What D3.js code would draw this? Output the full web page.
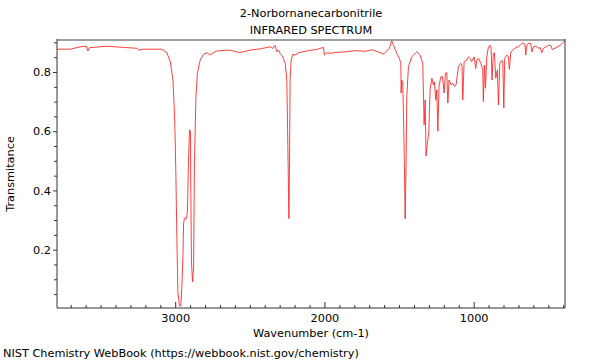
<!DOCTYPE html>
<html>
<head>
<meta charset="utf-8">
<script src="https://cdn.jsdelivr.net/npm/d3@7"></script>
<style>
  body { margin: 0; background: #fff; }
  text { font-family: "DejaVu Sans", sans-serif; fill: #000; }
</style>
</head>
<body>
<div id="chart"></div>
<script>
// spectrum: wavenumber (cm-1) and transmittance
var wavenumber = [3792, 3703, 3636, 3596, 3585, 3574, 3457, 3348, 3257, 3246, 3212, 3145, 3089, 3056, 3033, 3015, 3005, 3000, 2995, 2989,
  2982, 2971, 2962, 2955, 2948, 2944, 2938, 2928, 2922, 2918, 2911, 2904, 2898, 2895, 2891, 2884, 2877, 2871, 2861, 2851,
  2833, 2810, 2784, 2770, 2752, 2721, 2632, 2576, 2543, 2498, 2431, 2364, 2346, 2330, 2319, 2308, 2297, 2279, 2263, 2252,
  2245, 2238, 2234, 2230, 2223, 2212, 2196, 2174, 2118, 2084, 2051, 2007, 2000, 1984, 1962, 1928, 1861, 1794, 1727, 1680,
  1627, 1605, 1582, 1565, 1549, 1538, 1515, 1498, 1488, 1486, 1482, 1475, 1466, 1459, 1453, 1448, 1437, 1415, 1381, 1359,
  1341, 1332, 1325, 1319, 1310, 1301, 1292, 1280, 1270, 1263, 1254, 1247, 1240, 1232, 1220, 1209, 1198, 1189, 1180, 1173,
  1165, 1151, 1140, 1129, 1118, 1102, 1087, 1078, 1073, 1064, 1046, 1035, 1024, 1013, 997, 986, 979, 968, 952, 939,
  935, 928, 921, 912, 901, 890, 883, 877, 868, 861, 852, 841, 834, 825, 811, 805, 798, 792, 778, 767,
  761, 751, 734, 716, 700, 689, 677, 667, 656, 651, 644, 629, 618, 609, 600, 582, 567, 555, 544, 533,
  515, 499, 483, 474, 455, 421, 388]
var transmittance = [0.877, 0.877, 0.885, 0.887, 0.871, 0.882, 0.887, 0.883, 0.880, 0.874, 0.877, 0.877, 0.877, 0.865, 0.835, 0.773, 0.662, 0.572, 0.440, 0.247,
  0.057, 0.010, 0.010, 0.080, 0.180, 0.287, 0.306, 0.303, 0.314, 0.330, 0.495, 0.605, 0.600, 0.382, 0.159, 0.092, 0.136, 0.495, 0.717, 0.796,
  0.840, 0.860, 0.865, 0.857, 0.863, 0.871, 0.874, 0.866, 0.868, 0.874, 0.878, 0.885, 0.880, 0.890, 0.868, 0.874, 0.863, 0.851, 0.829, 0.773,
  0.549, 0.305, 0.495, 0.773, 0.840, 0.860, 0.857, 0.865, 0.871, 0.874, 0.876, 0.883, 0.857, 0.865, 0.863, 0.866, 0.868, 0.872, 0.870, 0.875,
  0.865, 0.860, 0.871, 0.880, 0.905, 0.891, 0.863, 0.846, 0.829, 0.729, 0.773, 0.762, 0.549, 0.304, 0.494, 0.717, 0.818, 0.851, 0.868, 0.857,
  0.829, 0.622, 0.706, 0.516, 0.561, 0.594, 0.740, 0.779, 0.756, 0.767, 0.706, 0.740, 0.600, 0.751, 0.784, 0.784, 0.729, 0.796, 0.798, 0.695,
  0.773, 0.756, 0.762, 0.751, 0.756, 0.818, 0.829, 0.823, 0.706, 0.835, 0.840, 0.851, 0.846, 0.835, 0.851, 0.812, 0.840, 0.846, 0.829, 0.807,
  0.700, 0.823, 0.745, 0.851, 0.885, 0.890, 0.880, 0.773, 0.863, 0.865, 0.779, 0.807, 0.689, 0.829, 0.840, 0.835, 0.678, 0.846, 0.857, 0.851,
  0.809, 0.868, 0.876, 0.883, 0.885, 0.890, 0.896, 0.898, 0.890, 0.857, 0.890, 0.898, 0.896, 0.868, 0.885, 0.887, 0.880, 0.883, 0.865, 0.880,
  0.885, 0.890, 0.890, 0.876, 0.880, 0.890, 0.905]

var xMajor = [3000, 2000, 1000]
var xMinor = [3700, 3600, 3500, 3400, 3300, 3200, 3100, 2900, 2800, 2700, 2600, 2500, 2400, 2300, 2200, 2100,
  1900, 1800, 1700, 1600, 1500, 1400, 1300, 1200, 1100, 900, 800, 700, 600, 500, 400]
var yMajor = [0.2, 0.4, 0.6, 0.8]
var yMinor = [0.05, 0.1, 0.15, 0.25, 0.3, 0.35, 0.45, 0.5, 0.55, 0.65, 0.7, 0.75, 0.85, 0.9]

var titleLines = ["2-Norbornanecarbonitrile", "INFRARED SPECTRUM"]

var fontSize = "11.3px"

var margin = {top: 40, right: 35, bottom: 52, left: 57},
    width = 600 - margin.left - margin.right,
    height = 360 - margin.top - margin.bottom;

var svg = d3.select("#chart")
  .append("svg")
  .attr("width", 600)
  .attr("height", 360)

var chartgroup = svg.append("g")
  .attr("transform", "translate(" + margin.left + "," + margin.top + ")");

var x = d3.scaleLinear()
  .domain([3792, 388])
  .range([0, width]);

var y = d3.scaleLinear()
  .domain([0.003, 0.908])
  .range([height, 0]);

// x axis: ticks point up into the plot
chartgroup.append("g")
  .attr("transform", "translate(0," + height + ")")
  .call(d3.axisTop(x).tickValues(xMinor).tickSize(3).tickFormat(""))
  .call(g => g.select(".domain").remove())
chartgroup.append("g")
  .attr("transform", "translate(0," + height + ")")
  .call(d3.axisTop(x).tickValues(xMajor).tickSize(6).tickFormat(""))
  .call(g => g.select(".domain").remove())
chartgroup.append("g")
  .attr("transform", "translate(0," + height + ")")
  .call(d3.axisBottom(x).tickValues(xMajor).tickSize(0).tickPadding(6).tickFormat(d3.format("d")))
  .call(g => g.select(".domain").remove())
  .call(g => g.selectAll("text").attr("font-size", fontSize).attr("font-family", "DejaVu Sans"))

// y axis: ticks point out
chartgroup.append("g")
  .call(d3.axisLeft(y).tickValues(yMinor).tickSize(3).tickFormat(""))
  .call(g => g.select(".domain").remove())
chartgroup.append("g")
  .call(d3.axisLeft(y).tickValues(yMajor).tickSize(4).tickPadding(2).tickFormat(d3.format(".1f")))
  .call(g => g.select(".domain").remove())
  .call(g => g.selectAll("text").attr("font-size", fontSize).attr("font-family", "DejaVu Sans"))

chartgroup.selectAll(".tick line").attr("stroke", "#333")

// spectrum
var points = wavenumber.map((w, i) => [w, transmittance[i]])
var line = d3.line()
  .x(d => x(d[0]))
  .y(d => y(d[1]))

chartgroup.append("path")
  .datum(points)
  .attr("fill", "none")
  .attr("stroke", "#ff2020")
  .attr("stroke-width", 1)
  .attr("stroke-opacity", 0.85)
  .attr("d", line)

// frame
chartgroup.append("line")
  .attr("x1", 0).attr("x2", width).attr("y1", 0).attr("y2", 0)
  .attr("stroke", "#a0a0a0").attr("stroke-width", 2)
chartgroup.append("line")
  .attr("x1", 0).attr("x2", 0).attr("y1", -1).attr("y2", height)
  .attr("stroke", "#333")
chartgroup.append("line")
  .attr("x1", width).attr("x2", width).attr("y1", -1).attr("y2", height)
  .attr("stroke", "#333")
chartgroup.append("line")
  .attr("x1", 0).attr("x2", width).attr("y1", height).attr("y2", height)
  .attr("stroke", "#333")

// titles
svg.selectAll(".title")
  .data(titleLines)
  .enter()
  .append("text")
  .attr("class", "title")
  .attr("x", 311)
  .attr("y", (d, i) => 17 + i * 17)
  .attr("text-anchor", "middle")
  .attr("font-size", fontSize)
  .text(d => d)

// axis labels
svg.append("text")
  .attr("x", 311)
  .attr("y", 337)
  .attr("text-anchor", "middle")
  .attr("font-size", fontSize)
  .text("Wavenumber (cm-1)")

svg.append("text")
  .attr("transform", "translate(14," + 174 + ") rotate(-90)")
  .attr("text-anchor", "middle")
  .attr("font-size", fontSize)
  .text("Transmitance")

svg.append("text")
  .attr("x", 3)
  .attr("y", 357)
  .attr("font-size", fontSize)
  .text("NIST Chemistry WebBook (https://webbook.nist.gov/chemistry)")
</script>
</body>
</html>
